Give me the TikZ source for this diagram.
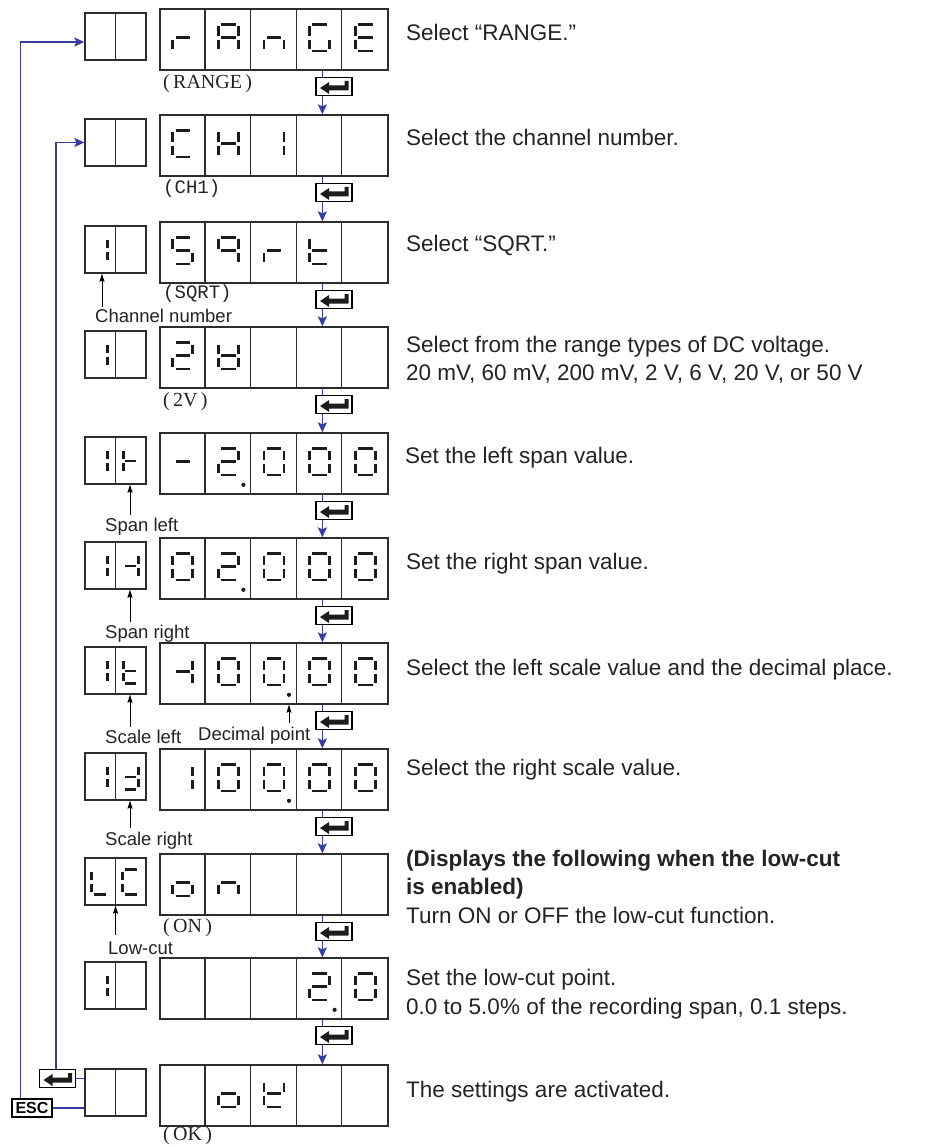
\documentclass[tikz,border=0pt]{standalone}
\usepackage{fontspec}
\setmainfont{Liberation Sans}
\newfontfamily\lserif{Liberation Serif}
\newfontfamily\lmono{Liberation Mono}
\usetikzlibrary{arrows.meta}
\definecolor{bl}{RGB}{52,62,165}
\definecolor{segc}{RGB}{28,28,28}
\definecolor{txt}{RGB}{35,35,35}
\definecolor{frame}{RGB}{45,45,45}

\makeatletter
\def\sg@a{\draw[seg] (-7.3,-13.2) -- (7.3,-13.2);}
\def\sg@b{\draw[seg] (10,-11.3) -- (10,-1.8);}
\def\sg@c{\draw[seg] (10,1.8) -- (10,11.3);}
\def\sg@d{\draw[seg] (-7.3,13.2) -- (7.3,13.2);}
\def\sg@e{\draw[seg] (-10,1.8) -- (-10,11.3);}
\def\sg@f{\draw[seg] (-10,-11.3) -- (-10,-1.8);}
\def\sg@g{\draw[seg] (-7.3,0) -- (7.3,0);}
\def\sg@p{\fill[segc] (15,23) circle[radius=2.1];}
\newcommand\sdig[4][]{\begin{scope}[shift={({#2},{#3})},#1]\foreach \s in {#4}{\csname sg@\s\endcsname}\end{scope}}
\makeatother

% main display digit: top, cell, segments
\newcommand\mdg[3]{\sdig{160+45.6*(#2-0.5)}{#1+28.8}{#3}}
% small box digit: top, cell, segments
\newcommand\sdg[4][0.75]{\sdig[xscale=#1,yscale=0.92]{85+30.5*(#3-0.5)}{#2+28}{#4}}
% display: name, top
\newcommand\disp[2]{\node[dbox] (#1) at (274,{#2+30.5}) {};
  \foreach \i in {1,...,4}{\draw[divl] ([xshift=\i*45.6pt]#1.north west) -- ([xshift=\i*45.6pt]#1.south west);}}
% small box: name, top
\newcommand\sbx[2]{\node[sbox] (#1) at (115.5,{#2+27.5}) {};
  \draw[divl] (#1.north) -- (#1.south);}
% enter key: name, x, y
\newcommand\ekey[3]{\node[ekeyst] (#1) at (#2,#3) {};
  \fill[segc,shift={(#1.center)}] (-14,1.5) -- (-5,-4.5) -- (-5,-1) -- (10.5,-1) -- (10.5,-5.5) -- (14.5,-5.5) -- (14.5,4) -- (-5,4) -- (-5,7.5) -- cycle;}

\tikzset{
  seg/.style={draw=segc, line width=2.8pt, line cap=butt},
  dbox/.style={draw=frame, line width=1.3pt, minimum width=228pt, minimum height=61pt, inner sep=0pt},
  sbox/.style={draw=frame, line width=1.3pt, minimum width=61pt, minimum height=47pt, inner sep=0pt},
  divl/.style={draw=frame, line width=1.2pt},
  ekeyst/.style={draw=black, fill=white, line width=1.6pt, minimum width=36pt, minimum height=18pt, inner sep=0pt},
  esckey/.style={draw=black, fill=white, line width=1.6pt, minimum width=40pt, minimum height=18pt, inner sep=0pt, font=\fontsize{16}{16}\selectfont\bfseries},
  bla/.style={draw=bl, line width=1.4pt, -{Stealth[length=10pt,width=9pt,inset=2pt]}},
  bll/.style={draw=bl, line width=1.4pt},
  blk/.style={draw=black, line width=0.9pt, -{Stealth[length=8pt,width=5pt,inset=1pt]}},
  rt/.style={anchor=base west, inner sep=0pt, text=txt, font=\fontsize{22.5}{27}\selectfont},
  rtb/.style={rt, font=\fontsize{22.5}{27}\selectfont\bfseries},
  lt/.style={anchor=base west, inner sep=0pt, text=txt, font=\fontsize{18.5}{22}\selectfont},
  dlser/.style={anchor=base west, inner sep=0pt, text=txt, font=\fontsize{20}{22}\selectfont\lserif},
  dlmono/.style={anchor=base west, inner sep=0pt, text=txt, font=\fontsize{19}{22}\selectfont\lmono},
}

\begin{document}
\begin{tikzpicture}[x=1pt,y=-1pt]
\useasboundingbox (0,0) rectangle (934,1147);

% displays
\disp{d1}{9}\disp{d2}{115}\disp{d3}{222}\disp{d4}{327}\disp{d5}{433}\disp{d6}{538}
\disp{d7}{643}\disp{d8}{749}\disp{d9}{854}\disp{d10}{958}\disp{d11}{1065}
% small boxes
\sbx{s1}{9}\sbx{s2}{115}\sbx{s3}{222}\sbx{s4}{327}\sbx{s5}{433}\sbx{s6}{538}
\sbx{s7}{643}\sbx{s8}{749}\sbx{s9}{854}\sbx{s10}{958}\sbx{s11}{1065}

% digits row 1: r A n G E
\mdg{9}{1}{e,g}\mdg{9}{2}{a,b,c,e,f,g}\mdg{9}{3}{c,e,g}\mdg{9}{4}{a,c,d,e,f}\mdg{9}{5}{a,d,e,f,g}
% row 2: C H 1
\mdg{115}{1}{a,d,e,f}\mdg{115}{2}{b,c,e,f,g}\mdg{115}{3}{b,c}
% row 3: S q r t
\mdg{222}{1}{a,c,d,f,g}\mdg{222}{2}{a,b,c,f,g}\mdg{222}{3}{e,g}\mdg{222}{4}{d,e,f,g}
\sdg{222}{1}{b,c}
% row 4: 2 V
\mdg{327}{1}{a,b,d,e,g}\mdg{327}{2}{b,c,d,e,f,g}
\sdg{327}{1}{b,c}
% row 5: - 2. 0 0 0
\mdg{433}{1}{g}\mdg{433}{2}{a,b,d,e,g,p}\mdg{433}{3}{a,b,c,d,e,f}\mdg{433}{4}{a,b,c,d,e,f}\mdg{433}{5}{a,b,c,d,e,f}
\sdg{433}{1}{b,c}\sdg{433}{2}{e,f,g}
% row 6: 0 2. 0 0 0
\mdg{538}{1}{a,b,c,d,e,f}\mdg{538}{2}{a,b,d,e,g,p}\mdg{538}{3}{a,b,c,d,e,f}\mdg{538}{4}{a,b,c,d,e,f}\mdg{538}{5}{a,b,c,d,e,f}
\sdg{538}{1}{b,c}\sdg{538}{2}{b,c,g}
% row 7: -1 0 0. 0 0
\mdg{643}{1}{b,c,g}\mdg{643}{2}{a,b,c,d,e,f}\mdg{643}{3}{a,b,c,d,e,f,p}\mdg{643}{4}{a,b,c,d,e,f}\mdg{643}{5}{a,b,c,d,e,f}
\sdg{643}{1}{b,c}\sdg{643}{2}{d,e,f,g}
% row 8: 1 0 0. 0 0
\mdg{749}{1}{b,c}\mdg{749}{2}{a,b,c,d,e,f}\mdg{749}{3}{a,b,c,d,e,f,p}\mdg{749}{4}{a,b,c,d,e,f}\mdg{749}{5}{a,b,c,d,e,f}
\sdg{749}{1}{b,c}\sdg{749}{2}{b,c,d,g}
% row 9: o n
\mdg{854}{1}{c,d,e,g}\mdg{854}{2}{c,e,g}
\sdg[0.85]{854}{1}{d,e,f}\sdg[0.85]{854}{2}{a,d,e,f}
% row 10: 2. 0
\mdg{958}{4}{a,b,d,e,g,p}\mdg{958}{5}{a,b,c,d,e,f}
\sdg{958}{1}{b,c}
% row 11: o k
\mdg{1065}{2}{c,d,e,g}\mdg{1065}{3}{b,d,e,f,g}

% blue flow arrows
\foreach \a/\b in {d1/d2,d2/d3,d3/d4,d4/d5,d5/d6,d6/d7,d7/d8,d8/d9,d9/d10,d10/d11}
  \draw[bla] ([xshift=163pt]\a.south west) -- ([xshift=163pt]\b.north west);

% enter keys
\ekey{k1}{334}{86.5}\ekey{k2}{334}{192.5}\ekey{k3}{334}{299.5}\ekey{k4}{334}{404.5}
\ekey{k5}{334}{510.5}\ekey{k6}{334}{615.5}\ekey{k7}{334}{720.5}\ekey{k8}{334}{826.5}
\ekey{k9}{334}{931.5}\ekey{k10}{334}{1035.5}
\ekey{k11}{57.5}{1078.5}
\node[esckey] (esc) at (32,1108) {ESC};

% loop lines
\draw[bla] ([xshift=9pt]esc.north west) |- ([yshift=-5.5pt]s1.west);
\draw[bla] ([xshift=-1.5pt]k11.north) |- (s2.west);
\draw[bll] (k11.east) -- (k11.east -| s11.west);
\draw[bll] (esc.east) -- (esc.east -| s11.west);

% labels under displays
\node[dlser] (lr) at (163,88.5) {(\,RANGE\,)};
\node[dlmono] (lch) at (163,194) {(CH1)};
\node[dlmono] (lsq) at (163,298.5) {(SQRT)};
\node[dlser] (l2v) at (163,406) {(\,2V\,)};
\node[dlser] (lon) at (163,932) {(\,ON\,)};
\node[dlser] (lok) at (163,1140) {(\,OK\,)};

% annotations
\node[lt] (cn) at (95,322) {Channel number};
\node[lt] (spl) at (105,531.5) {Span left};
\node[lt] (spr) at (105,638) {Span right};
\node[lt] (scl) at (105,743) {Scale left};
\node[lt] (scr) at (105,845.5) {Scale right};
\node[lt] (lcut) at (108,954) {Low-cut};
\node[lt] (dpt) at (198,740) {Decimal point};
\coordinate (acn) at (102,307);
\coordinate (aspl) at (130,515);
\coordinate (aspr) at (130,622);
\coordinate (ascl) at (130,727);
\coordinate (ascr) at (130,828);
\coordinate (alc) at (115.5,935);
\coordinate (adp) at (289,723);
\draw[blk] (acn) -- (acn |- s3.south);
\draw[blk] (aspl) -- (aspl |- s5.south);
\draw[blk] (aspr) -- (aspr |- s6.south);
\draw[blk] (ascl) -- (ascl |- s7.south);
\draw[blk] (ascr) -- (ascr |- s8.south);
\draw[blk] (alc) -- (alc |- s9.south);
\draw[blk] (adp) -- (adp |- d7.south);

% right-hand texts
\node[rt] (t1) at (406,41) {Select “RANGE.”};
\node[rt] (t2) at (406,146) {Select the channel number.};
\node[rt] (t3) at (406,252) {Select “SQRT.”};
\node[rt] (t4a) at (406,352) {Select from the range types of DC voltage.};
\node[rt] (t4b) at (406,380) {20 mV, 60 mV, 200 mV, 2 V, 6 V, 20 V, or 50 V};
\node[rt] (t5) at (405,463) {Set the left span value.};
\node[rt] (t6) at (406,569) {Set the right span value.};
\node[rt] (t7) at (406,675) {Select the left scale value and the decimal place.};
\node[rt] (t8) at (406,775) {Select the right scale value.};
\node[rtb] (t9a) at (406,866) {(Displays the following when the low-cut};
\node[rtb] (t9b) at (406,894) {is enabled)};
\node[rt] (t9c) at (406,923) {Turn ON or OFF the low-cut function.};
\node[rt] (t10a) at (406,985) {Set the low-cut point.};
\node[rt] (t10b) at (406,1014) {0.0 to 5.0\% of the recording span, 0.1 steps.};
\node[rt] (t11) at (406,1097) {The settings are activated.};
\end{tikzpicture}
\end{document}
